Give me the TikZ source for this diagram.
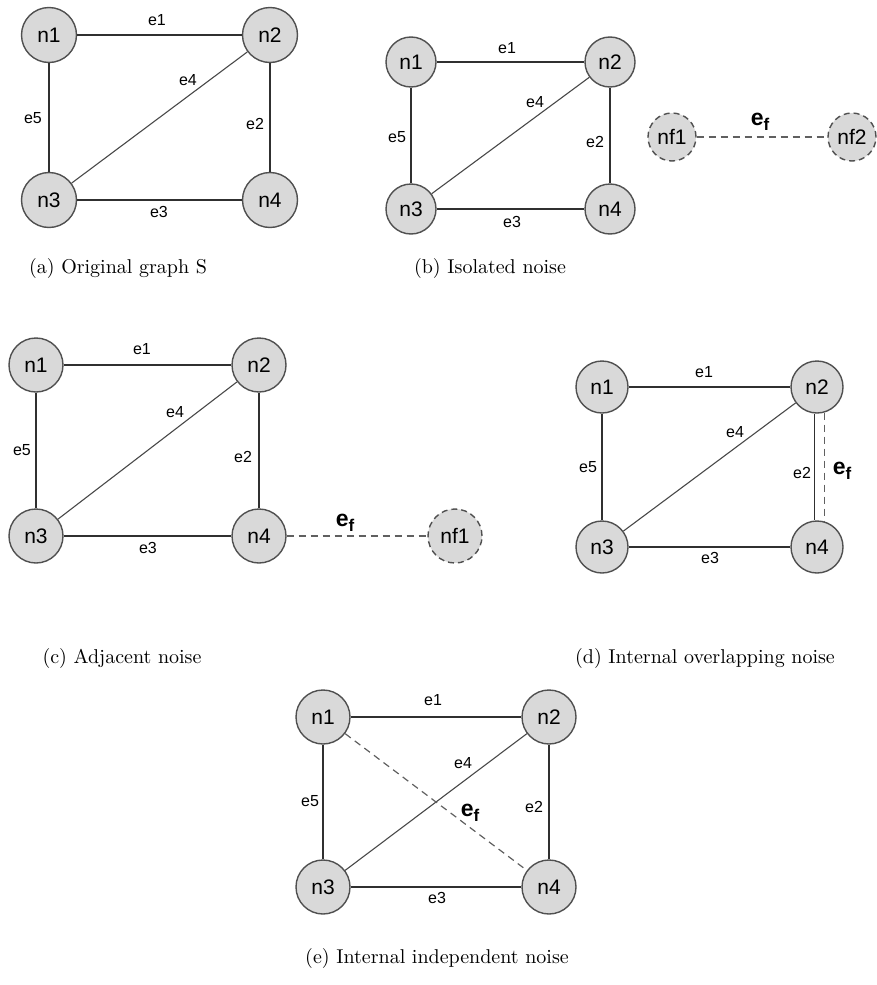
\documentclass[tikz,border=0pt]{standalone}
\usepackage{fontspec}
\newfontfamily\graphfont{Liberation Sans}
\begin{document}
\begin{tikzpicture}[x=0.5pt,y=-0.5pt,
  vert/.style={circle,draw=nodeborder,fill=nodefill,line width=0.7pt,inner sep=0pt,minimum size=#1,font=\graphfont\fontsize{10.5}{11}\selectfont},
  vert/.default=27.5pt,
  noisevert/.style={vert=#1,dashed,dash pattern=on 3pt off 2pt},
  noisevert/.default=24pt,
  edge/.style={draw=edgecol,line width=0.55pt},
  diagedge/.style={draw=diagcol,line width=0.55pt},
  noiseedge/.style={draw=noisecol,line width=0.6pt,dash pattern=on 3.5pt off 2.5pt},
  elabel/.style={font=\graphfont\fontsize{8}{9}\selectfont,inner sep=0pt},
  flabel/.style={font=\graphfont\fontsize{11.5}{12}\selectfont\bfseries,inner sep=0pt},
  caption/.style={font=\fontsize{10}{12}\selectfont,inner sep=0pt}]
\definecolor{nodefill}{HTML}{D9D9D9}
\definecolor{nodeborder}{HTML}{505050}
\definecolor{edgecol}{HTML}{303030}
\definecolor{diagcol}{HTML}{484848}
\definecolor{noisecol}{HTML}{606060}
\newcommand{\ef}{e\raisebox{-0.45ex}{\fontsize{8.5}{8.5}\selectfont f}}
\useasboundingbox (0,0) rectangle (877,985);

% (a) original graph
\node[vert] (a1) at (49,35) {n1};
\node[vert] (a2) at (270,35) {n2};
\node[vert] (a3) at (49,200) {n3};
\node[vert] (a4) at (270,200) {n4};
\draw[edge] (a1) -- (a2);
\draw[edge] (a2) -- (a4);
\draw[edge] (a3) -- (a4);
\draw[diagedge] (a3) -- (a2);
\draw[edge] (a1) -- (a3);
\node[elabel] at (157,20) {e1};
\node[elabel] at (188,80) {e4};
\node[elabel] at (33,118) {e5};
\node[elabel] at (255,124) {e2};
\node[elabel] at (159,212) {e3};
\node[caption] (capa) at (118,268) {(a) Original graph S};

% (b) isolated noise
\node[vert=25pt] (b1) at (411,62) {n1};
\node[vert=25pt] (b2) at (610,62) {n2};
\node[vert=25pt] (b3) at (411,209) {n3};
\node[vert=25pt] (b4) at (610,209) {n4};
\node[noisevert] (bf1) at (672,137) {nf1};
\node[noisevert] (bf2) at (852,137) {nf2};
\draw[edge] (b1) -- (b2);
\draw[edge] (b2) -- (b4);
\draw[edge] (b3) -- (b4);
\draw[diagedge] (b3) -- (b2);
\draw[edge] (b1) -- (b3);
\draw[noiseedge] (bf1) -- (bf2);
\node[elabel] at (507,48) {e1};
\node[elabel] at (535,102) {e4};
\node[elabel] at (397,137) {e5};
\node[elabel] at (595,142) {e2};
\node[elabel] at (512,222) {e3};
\node[flabel] at (760,122) {\ef};
\node[caption] (capb) at (490,268) {(b) Isolated noise};

% (c) adjacent noise
\node[vert=27pt] (c1) at (36,365) {n1};
\node[vert=27pt] (c2) at (259,365) {n2};
\node[vert=27pt] (c3) at (36,536) {n3};
\node[vert=27pt] (c4) at (259,536) {n4};
\node[noisevert=27pt] (cf1) at (455,536) {nf1};
\draw[edge] (c1) -- (c2);
\draw[edge] (c2) -- (c4);
\draw[edge] (c3) -- (c4);
\draw[diagedge] (c3) -- (c2);
\draw[edge] (c1) -- (c3);
\draw[noiseedge] (c4) -- (cf1);
\node[elabel] at (142,349) {e1};
\node[elabel] at (175,412) {e4};
\node[elabel] at (22,450) {e5};
\node[elabel] at (243,457) {e2};
\node[elabel] at (148,548) {e3};
\node[flabel] at (345,523) {\ef};
\node[caption] (capc) at (122,658) {(c) Adjacent noise};

% (d) internal overlapping noise
\node[vert=26pt] (d1) at (602,387) {n1};
\node[vert=26pt] (d2) at (817,387) {n2};
\node[vert=26pt] (d3) at (602,547) {n3};
\node[vert=26pt] (d4) at (817,547) {n4};
\draw[edge] (d1) -- (d2);
\draw[edge] (d2.-95) -- (d4.95);
\draw[edge] (d3) -- (d4);
\draw[diagedge] (d3) -- (d2);
\draw[edge] (d1) -- (d3);
\draw[noiseedge] (d2.-73) -- (d4.73);
\node[elabel] at (704,372) {e1};
\node[elabel] at (735,432) {e4};
\node[elabel] at (588,467) {e5};
\node[elabel] at (802,473) {e2};
\node[flabel] at (842,471) {\ef};
\node[elabel] at (710,558) {e3};
\node[caption] (capd) at (705,658) {(d) Internal overlapping noise};

% (e) internal independent noise
\node[vert=27pt] (e1) at (323,717) {n1};
\node[vert=27pt] (e2) at (549,717) {n2};
\node[vert=27pt] (e3) at (323,887) {n3};
\node[vert=27pt] (e4) at (549,887) {n4};
\draw[edge] (e1) -- (e2);
\draw[edge] (e2) -- (e4);
\draw[edge] (e3) -- (e4);
\draw[diagedge] (e3) -- (e2);
\draw[edge] (e1) -- (e3);
\draw[noiseedge] (e1) -- (e4);
\node[elabel] at (433,700) {e1};
\node[elabel] at (463,763) {e4};
\node[elabel] at (310,801) {e5};
\node[elabel] at (534,807) {e2};
\node[elabel] at (437,898) {e3};
\node[flabel] at (470,813) {\ef};
\node[caption] (cape) at (437,958) {(e) Internal independent noise};
\end{tikzpicture}
\end{document}
